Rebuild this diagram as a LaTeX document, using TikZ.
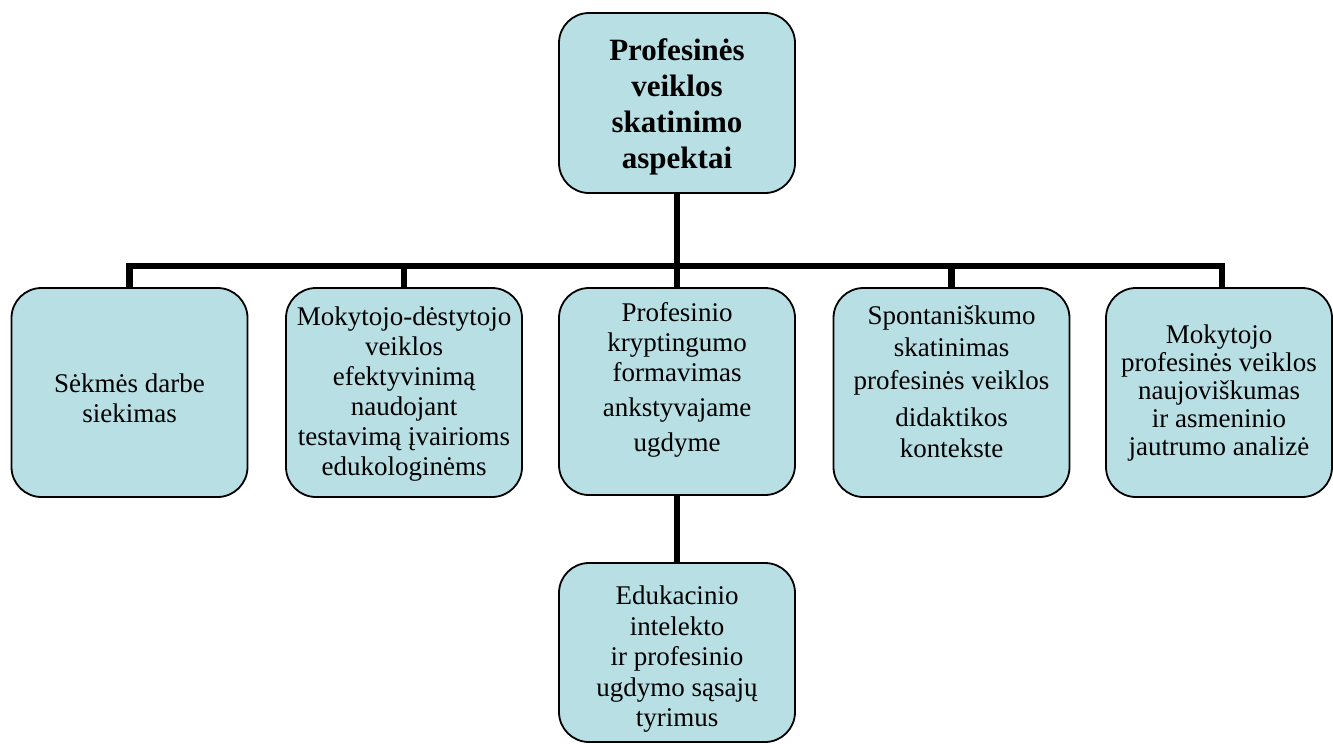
\documentclass[tikz,border=0pt]{standalone}
\usepackage{fontspec}
\setmainfont{Liberation Serif}
\definecolor{boxfill}{RGB}{183,223,228}
\begin{document}
\begin{tikzpicture}[x=1pt,y=-1pt,
  box/.style={draw=black, line width=1.8pt, fill=boxfill, rounded corners=30pt,
    minimum width=236pt, minimum height=209pt, inner sep=0pt},
  lbl/.style={align=center, inner sep=0pt, font=\fontsize{27}{30}\selectfont},
  title/.style={align=center, inner sep=0pt, font=\fontsize{31}{36}\selectfont\bfseries},
  conn/.style={line width=6.5pt, line join=miter}]
\useasboundingbox (0,0) rectangle (1333,744);

% boxes
\node[box, minimum height=180pt] (top) at (677,103) {};
\node[box] (b1) at (129.5,392.5) {};
\node[box] (b2) at (404,392.5) {};
\node[box, minimum height=207pt] (b3) at (677,391.5) {};
\node[box] (b4) at (951.5,392.5) {};
\node[box, minimum width=226pt] (b5) at (1219,392.5) {};
\node[box, minimum height=179pt] (b6) at (677,652.5) {};

% connectors
\coordinate (j) at (677,266);
\coordinate (j1) at (129.5,266);
\coordinate (j2) at (404,266);
\coordinate (j4) at (951.5,266);
\coordinate (j5) at (1222,266);
\draw[conn] (top.south) -- (j);
\draw[conn] (b1.north) -- (j1) -- (j5) -- (j5 |- b5.north);
\draw[conn] (j2) -- (b2.north);
\draw[conn] (j) -- (b3.north);
\draw[conn] (j4) -- (b4.north);
\draw[conn] (b3.south) -- (b6.north);

% texts
\node[title] (ttop) at (677,107) {Profesinės\\ veiklos\\ skatinimo\\ aspektai};
\node[lbl] (t1) at (129.5,398) {Sėkmės darbe\\ siekimas};
\node[lbl] (t2) at (404,394) {Mokytojo-dėstytojo\\ veiklos\\ efektyvinimą\\ naudojant\\ testavimą įvairioms\\ edukologinėms};
\node[lbl] (t3) at (677,380) {Profesinio\\ kryptingumo\\ formavimas\\[5pt] ankstyvajame\\[5pt] ugdyme};
\node[lbl] (t4) at (951.5,382) {Spontaniškumo\\[2pt] skatinimas\\[3pt] profesinės veiklos\\[7pt] didaktikos\\[1pt] kontekste};
\node[lbl, font=\fontsize{27}{28}\selectfont] (t5) at (1219,393) {Mokytojo\\ profesinės veiklos\\ naujoviškumas\\ ir asmeninio\\ jautrumo analizė};
\node[lbl, font=\fontsize{27}{30.5}\selectfont] (t6) at (677,659.5) {Edukacinio\\ intelekto\\ ir profesinio\\ ugdymo sąsajų\\ tyrimus};
\end{tikzpicture}
\end{document}
